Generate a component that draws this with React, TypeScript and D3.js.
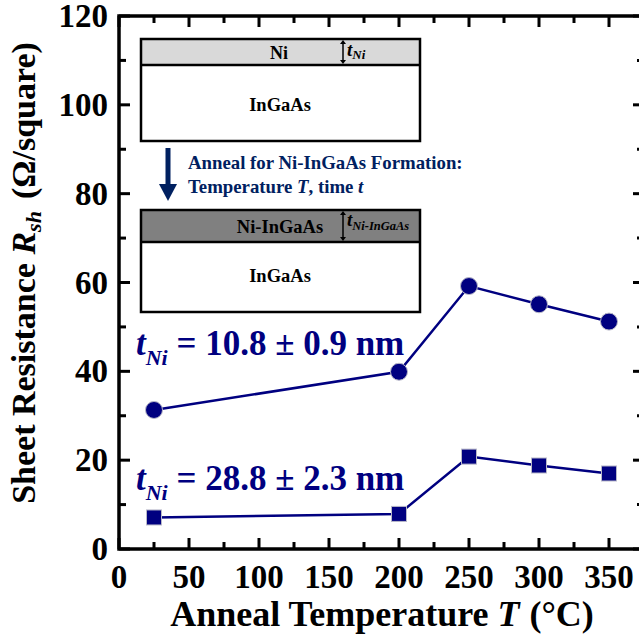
import React from "react";
import * as d3 from "d3";

const tempsC = [25, 200, 250, 300, 350];
const rshThin = [31.3, 39.9, 59.2, 55.1, 51.2];
const rshThick = [7.1, 7.9, 20.8, 18.8, 17.0];
const xTicks = [0, 50, 100, 150, 200, 250, 300, 350];
const xMinor = [25, 75, 125, 175, 225, 275, 325, 375];
const yTicks = [0, 20, 40, 60, 80, 100, 120];
const yMinor = [10, 30, 50, 70, 90, 110];

const W = 639;
const H = 640;
const FONT = "Liberation Serif, DejaVu Serif";
const NAVY = "#000080";
const DARK = "#002060";

export default function App() {
  const x = d3.scaleLinear().domain([0, 375]).range([119, 644]);
  const y = d3.scaleLinear().domain([0, 120]).range([549, 16]);
  const line = d3
    .line<number>()
    .x((_, i) => x(tempsC[i]))
    .y((d) => y(d));

  const axisW = 3.5;
  const majL = 11;
  const minL = 7;

  return (
    <svg
      width={W}
      height={H}
      style={{ position: "absolute", left: 0, top: 0, background: "#fff" }}
    >
      <g fontFamily={FONT} fontWeight={700}>
      <rect x={0} y={0} width={W} height={H} fill="#fff" />
      <rect
        x={x(0)}
        y={y(120)}
        width={x(375) - x(0)}
        height={y(0) - y(120)}
        fill="none"
        stroke="#000"
        strokeWidth={axisW}
      />
      {xTicks.map((t) => (
        <g key={"xt" + t}>
          <line x1={x(t)} x2={x(t)} y1={y(0)} y2={y(0) - majL} stroke="#000" strokeWidth={3} />
          <line x1={x(t)} x2={x(t)} y1={y(120)} y2={y(120) + majL} stroke="#000" strokeWidth={3} />
          <text x={x(t)} y={588} fontSize={33} textAnchor="middle">
            {t}
          </text>
        </g>
      ))}
      {xMinor.map((t) => (
        <g key={"xm" + t}>
          <line x1={x(t)} x2={x(t)} y1={y(0)} y2={y(0) - minL} stroke="#000" strokeWidth={3} />
          <line x1={x(t)} x2={x(t)} y1={y(120)} y2={y(120) + minL} stroke="#000" strokeWidth={3} />
        </g>
      ))}
      {yTicks.map((t) => (
        <g key={"yt" + t}>
          <line x1={x(0)} x2={x(0) + majL} y1={y(t)} y2={y(t)} stroke="#000" strokeWidth={3} />
          <line x1={x(375)} x2={x(375) - majL} y1={y(t)} y2={y(t)} stroke="#000" strokeWidth={3} />
          <text x={108} y={y(t) + 11} fontSize={33} textAnchor="end">
            {t}
          </text>
        </g>
      ))}
      {yMinor.map((t) => (
        <g key={"ym" + t}>
          <line x1={x(0)} x2={x(0) + minL} y1={y(t)} y2={y(t)} stroke="#000" strokeWidth={3} />
          <line x1={x(375)} x2={x(375) - minL} y1={y(t)} y2={y(t)} stroke="#000" strokeWidth={3} />
        </g>
      ))}

      <text x={382} y={626} fontSize={36} textAnchor="middle">
        Anneal Temperature{" "}
        <tspan fontStyle="italic">T</tspan>
        <tspan dx={10}>(°C)</tspan>
      </text>
      <text transform="translate(35,273) rotate(-90)" fontSize={34} textAnchor="middle">
        Sheet Resistance{" "}
        <tspan fontStyle="italic">R</tspan>
        <tspan fontStyle="italic" fontSize={22} dy={6}>
          sh
        </tspan>
        <tspan dy={-6} dx={12}>
          (Ω/square)
        </tspan>
      </text>

      <rect x={141} y={39} width={279} height={26} fill="#d9d9d9" />
      <rect x={141} y={39} width={279} height={102} fill="none" stroke="#000" strokeWidth={2.5} />
      <line x1={141} x2={420} y1={65} y2={65} stroke="#000" strokeWidth={2.5} />
      <text x={279} y={59} fontSize={18} textAnchor="middle">Ni</text>
      <text x={280} y={111} fontSize={18.5} textAnchor="middle">InGaAs</text>
      <DoubleArrow x={343} y1={40} y2={64} />
      <text x={347} y={56} fontSize={19} fontStyle="italic">
        t<tspan fontSize={13} dy={3}>Ni</tspan>
      </text>

      <rect x={165.5} y={148} width={5} height={38} fill={DARK} />
      <path d="M 159 184 L 177 184 L 168 201 Z" fill={DARK} />
      <text x={188} y={169} fontSize={18.8} fill={DARK}>
        Anneal for Ni-InGaAs Formation:
      </text>
      <text x={188} y={193} fontSize={18.8} fill={DARK}>
        Temperature <tspan fontStyle="italic">T</tspan>, time <tspan fontStyle="italic">t</tspan>
      </text>

      <rect x={141} y={210} width={279} height={32} fill="#808080" />
      <rect x={141} y={210} width={279} height={102} fill="none" stroke="#000" strokeWidth={2.5} />
      <line x1={141} x2={420} y1={242} y2={242} stroke="#000" strokeWidth={2.5} />
      <text x={280} y={233} fontSize={18.5} textAnchor="middle">Ni-InGaAs</text>
      <text x={280} y={282} fontSize={18.5} textAnchor="middle">InGaAs</text>
      <DoubleArrow x={343} y1={211} y2={241} />
      <text x={347} y={226} fontSize={19} fontStyle="italic">
        t<tspan fontSize={12.5} dy={4}>Ni-InGaAs</tspan>
      </text>

      <path d={line(rshThin) || ""} fill="none" stroke={NAVY} strokeWidth={2.5} />
      <path d={line(rshThick) || ""} fill="none" stroke={NAVY} strokeWidth={2.5} />
      {rshThin.map((v, i) => (
        <circle key={"c" + i} cx={x(tempsC[i])} cy={y(v)} r={8.5} fill={NAVY} stroke="#b8b8c8" strokeWidth={1} />
      ))}
      {rshThick.map((v, i) => (
        <rect
          key={"s" + i}
          x={x(tempsC[i]) - 7.5}
          y={y(v) - 7.5}
          width={15}
          height={15}
          fill={NAVY}
          stroke="#b8b8c8"
          strokeWidth={1}
        />
      ))}

      <text x={136} y={355} fontSize={35} fill={NAVY}>
        <tspan fontStyle="italic">t</tspan>
        <tspan fontStyle="italic" fontSize={22} dy={10}>Ni</tspan>
        <tspan dy={-10}> = 10.8 ± 0.9 nm</tspan>
      </text>
      <text x={136} y={490} fontSize={35} fill={NAVY}>
        <tspan fontStyle="italic">t</tspan>
        <tspan fontStyle="italic" fontSize={22} dy={10}>Ni</tspan>
        <tspan dy={-10}> = 28.8 ± 2.3 nm</tspan>
      </text>
      </g>
    </svg>
  );
}

function DoubleArrow({ x, y1, y2 }: { x: number; y1: number; y2: number }) {
  const h = 4;
  const w = 3;
  return (
    <g>
      <line x1={x} x2={x} y1={y1 + h} y2={y2 - h} stroke="#000" strokeWidth={1.5} />
      <path d={`M ${x - w} ${y1 + h} L ${x + w} ${y1 + h} L ${x} ${y1} Z`} fill="#000" />
      <path d={`M ${x - w} ${y2 - h} L ${x + w} ${y2 - h} L ${x} ${y2} Z`} fill="#000" />
    </g>
  );
}
